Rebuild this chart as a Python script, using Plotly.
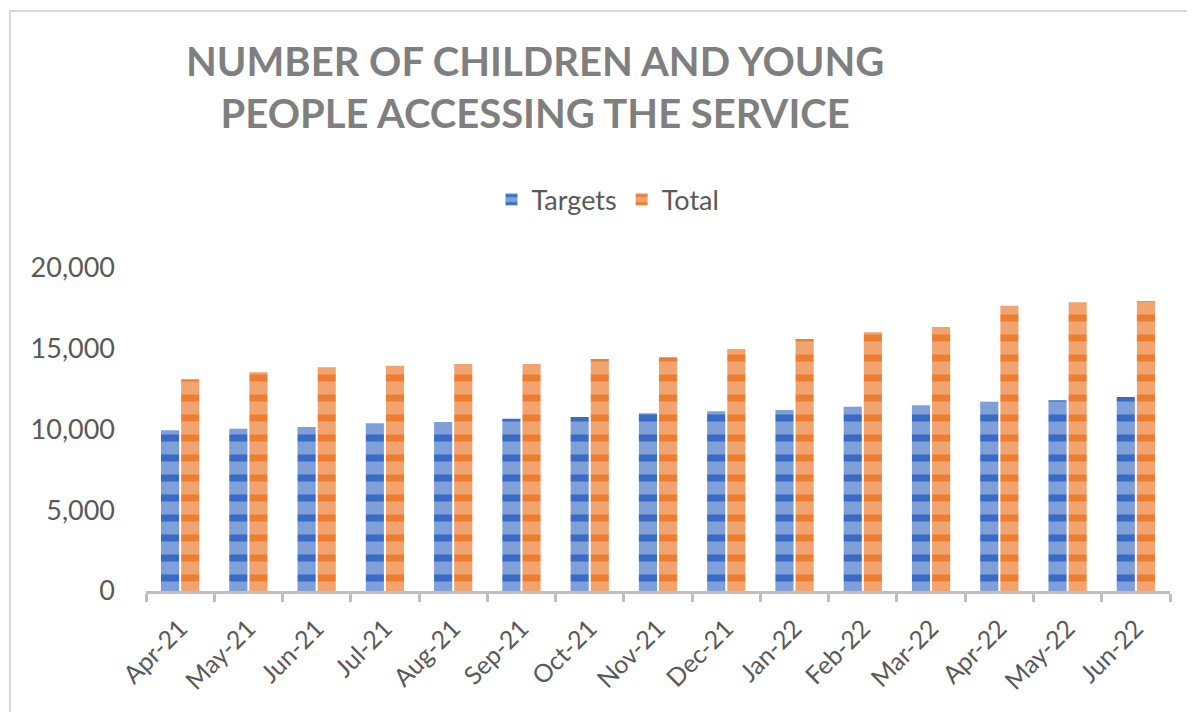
import plotly.graph_objects as go

months = ["Apr-21", "May-21", "Jun-21", "Jul-21", "Aug-21", "Sep-21", "Oct-21", "Nov-21",
          "Dec-21", "Jan-22", "Feb-22", "Mar-22", "Apr-22", "May-22", "Jun-22"]
targets = [9950, 10050, 10150, 10380, 10460, 10670, 10770, 11000,
           11130, 11210, 11410, 11500, 11720, 11810, 12010]
totals = [13110, 13540, 13850, 13950, 14060, 14050, 14370, 14470,
          14980, 15600, 16020, 16350, 17670, 17880, 17960]
y_ticks = [0, 5000, 10000, 15000, 20000]
y_labels = ["0", "5,000", "10,000", "15,000", "20,000"]

OFF = 8  # browser body margin
W, H = 1195 - OFF, 712 - OFF
L, R, T, B = 146 - OFF, 25, 268 - OFF, 121
pw, ph = W - L - R, H - T - B

def px(x):
    return (x - OFF - L) / pw

def py(y):
    return (H - B - (y - OFF)) / ph

fig = go.Figure()
fig.add_trace(go.Bar(
    x=months, y=targets, name="Targets",
    marker=dict(color="#7E9FDA", line=dict(width=0),
                pattern=dict(shape="-", fgcolor="#3A6BC4", bgcolor="#7F9FD9",
                             size=20, solidity=0.35, fillmode="replace")),
))
fig.add_trace(go.Bar(
    x=months, y=totals, name="Total",
    marker=dict(color="#F2A470", line=dict(width=0),
                pattern=dict(shape="-", fgcolor="#ED7D31", bgcolor="#F2A470",
                             size=20, solidity=0.35, fillmode="replace")),
))

fig.update_layout(
    width=W, height=H,
    margin=dict(l=L, r=R, t=T, b=B, autoexpand=False),
    paper_bgcolor="white", plot_bgcolor="white",
    barmode="group", bargap=0.41, bargroupgap=0.1,
    font=dict(family="Lato, 'Open Sans', sans-serif", color="#595959"),
    showlegend=True,
    legend=dict(orientation="h", x=px(608), y=py(200), xanchor="center", yanchor="middle",
                font=dict(size=27, color="#595959"), itemwidth=30, traceorder="normal"),
    xaxis=dict(showgrid=False, showline=True, linecolor="#BFBFBF", linewidth=3,
               ticks="outside", tickson="boundaries", ticklen=8, tickwidth=3, tickcolor="#BFBFBF",
               tickangle=-45, tickfont=dict(size=25, color="#595959"), automargin=False,
               ticklabelstandoff=10),
    yaxis=dict(range=[0, 20000], showgrid=False, showline=False, zeroline=False,
               tickvals=y_ticks, ticktext=y_labels, ticks="", automargin=False,
               tickfont=dict(size=27, color="#595959"), ticklabelstandoff=30),
    annotations=[dict(
        text="<b>NUMBER OF CHILDREN AND YOUNG<br>PEOPLE ACCESSING THE SERVICE</b>",
        xref="paper", yref="paper", x=px(535), y=py(87), xanchor="center", yanchor="middle",
        showarrow=False, font=dict(size=40, color="#7F7F7F", family="Lato, sans-serif"),
        align="center")],
    shapes=[dict(type="rect", xref="paper", yref="paper",
                 x0=px(10), x1=px(1215), y0=py(740), y1=py(11),
                 line=dict(color="#D9D9D9", width=2), fillcolor="rgba(0,0,0,0)", layer="below")],
)

fig.write_html("out.html")
